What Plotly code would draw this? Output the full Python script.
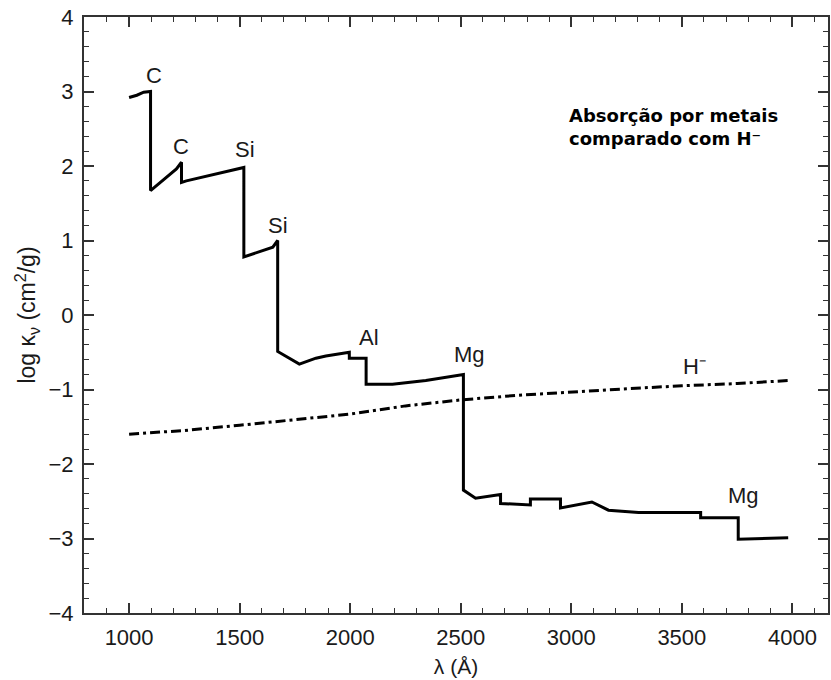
import plotly.graph_objects as go

# Metal bound-free absorption (log kappa_nu) versus wavelength, with edges
metal_lambda = [1000, 1035, 1066, 1097, 1097, 1169, 1214, 1237, 1237, 1259, 1500, 1519, 1519,
                1650, 1672, 1672, 1770, 1845, 1890, 1950, 1996, 1996, 2072, 2072, 2191, 2342,
                2512, 2512, 2567, 2680, 2680, 2815, 2815, 2951, 2951, 3093, 3168, 3304, 3585,
                3585, 3755, 3755, 3981]
metal_logk = [2.92, 2.95, 2.99, 3.00, 1.67, 1.85, 1.96, 2.05, 1.78, 1.80, 1.96, 1.98, 0.78,
              0.91, 1.00, -0.49, -0.66, -0.58, -0.55, -0.52, -0.50, -0.58, -0.58, -0.93, -0.93, -0.88,
              -0.80, -2.35, -2.46, -2.41, -2.53, -2.55, -2.47, -2.47, -2.59, -2.51, -2.62, -2.65, -2.65,
              -2.72, -2.72, -3.01, -2.99]

# H-minus absorption for comparison
hminus_lambda = [1000, 1250, 1500, 1750, 2000, 2250, 2500, 2750, 3000, 3250, 3500, 3750, 3980]
hminus_logk = [-1.60, -1.55, -1.48, -1.41, -1.33, -1.22, -1.14, -1.08, -1.03, -0.99, -0.95, -0.92, -0.88]

# Edge labels
edge_names = ["C", "C", "Si", "Si", "Al", "Mg", "H\u207b", "Mg"]
edge_lambda = [1111, 1236, 1526, 1672, 2084, 2538, 3557, 3778]
edge_logk = [3.21, 2.26, 2.22, 1.20, -0.30, -0.53, -0.69, -2.42]

x_ticks = [1000, 1500, 2000, 2500, 3000, 3500, 4000]
y_ticks = [-4, -3, -2, -1, 0, 1, 2, 3, 4]

FONT = "Liberation Sans, Arial, sans-serif"
INK = "#1a1a1a"

fig = go.Figure()
fig.add_trace(go.Scatter(x=metal_lambda, y=metal_logk, mode="lines",
                         line=dict(color="black", width=3), hoverinfo="skip"))
fig.add_trace(go.Scatter(x=hminus_lambda, y=hminus_logk, mode="lines",
                         line=dict(color="black", width=3, dash="10px,4px,3px,4px"),
                         hoverinfo="skip"))

for name, lx, ly in zip(edge_names, edge_lambda, edge_logk):
    fig.add_annotation(x=lx, y=ly, text=name, showarrow=False,
                       font=dict(family=FONT, size=22, color=INK),
                       xanchor="center", yanchor="middle")

fig.add_annotation(x=2979, y=2.52, text="<b>Absorção por metais<br>comparado com H\u207b</b>",
                   showarrow=False, align="left", xanchor="left", yanchor="middle",
                   font=dict(family="DejaVu Sans", size=18, color="black"))

axis_common = dict(
    showline=True, linecolor="#333333", linewidth=2, mirror="allticks",
    ticks="inside", ticklen=10, tickwidth=1.5, tickcolor="#333333",
    showgrid=False, zeroline=False, ticklabelstandoff=4,
    tickfont=dict(family=FONT, size=22, color=INK),
)

fig.update_xaxes(range=[796, 4161], tickvals=x_ticks,
                 minor=dict(ticks="inside", ticklen=5, tickwidth=1.2, tickcolor="#333333",
                            dtick=100, tick0=1000, showgrid=False),
                 title=dict(text="\u03bb (\u00c5)", font=dict(family=FONT, size=21, color=INK),
                            standoff=10),
                 **axis_common)
fig.update_yaxes(range=[-4, 4], tickvals=y_ticks,
                 minor=dict(ticks="inside", ticklen=5, tickwidth=1.2, tickcolor="#333333",
                            dtick=0.2, tick0=0, showgrid=False),
                 title=dict(text="log \u03ba<sub>\u03bd</sub> (cm<sup>2</sup>/g)",
                            font=dict(family=FONT, size=23, color=INK), standoff=6),
                 **axis_common)

fig.update_layout(
    width=831, height=680,
    margin=dict(l=84, r=1, t=17, b=67),
    paper_bgcolor="white", plot_bgcolor="white",
    showlegend=False,
)

fig.write_html("out.html")
